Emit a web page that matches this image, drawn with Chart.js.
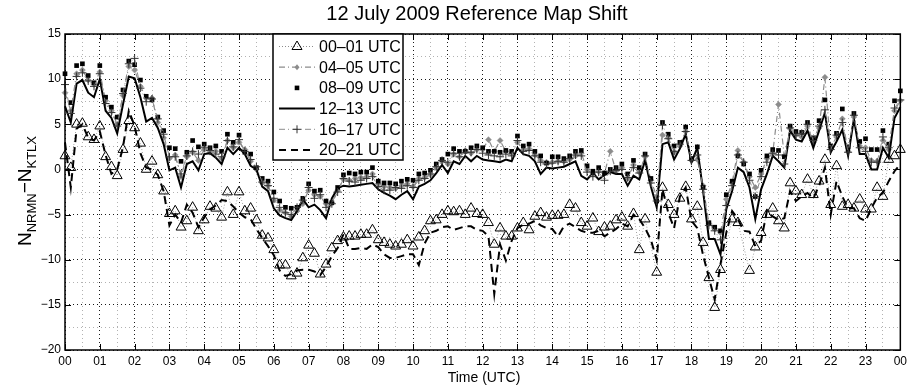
<!DOCTYPE html>
<html>
<head>
<meta charset="utf-8">
<script src="https://cdn.jsdelivr.net/npm/chart.js@4/dist/chart.umd.min.js"></script>
<style>
  html, body { margin: 0; padding: 0; background: #fff; }
</style>
</head>
<body>
<canvas id="shift" width="911" height="389"></canvas>
<script>
/* samples every 10 min, 00:00 .. 24:00 (145 values per series) */
var hourLabels = ['00','01','02','03','04','05','06','07','08','09','10','11',
                  '12','13','14','15','16','17','18','19','20','21','22','23','00'];
var minuteMarks = ['00','10','20','30','40','50'];

var seriesNames = ['00\u201301 UTC','04\u201305 UTC','08\u201309 UTC','12\u201313 UTC','16\u201317 UTC','20\u201321 UTC'];

var s00 = [
  1.5, 0.2, 5.0, 5.1, 3.6, 3.3,   4.8, 1.4, 0.3, -0.7, 2.2, 5.4,
  4.6, 2.9, 0.0, 0.9, -0.6, -2.4, -4.9, -4.6, -6.4, -5.7, -4.2, -6.8,
  -5.6, -4.1, -4.3, -5.3, -2.5, -5.0, -2.5, -4.6, -4.3, -5.6, -7.3, -7.6,
  -8.9, -10.6, -10.6, -11.8, -11.5, -9.8, -8.4, -9.3, -11.6, -10.5, -8.7, -7.9,
  -7.5, -7.4, -7.4, -7.2, -7.2, -6.7, -7.8, -8.1, -8.3, -8.5, -8.3, -7.8,
  -8.5, -7.5, -6.8, -5.7, -5.6, -5.0, -4.6, -4.7, -4.6, -5.0, -4.3, -4.9,
  -5.0, -5.9, -8.3, -6.5, -7.4, -7.4, -6.5, -5.9, -6.7, -5.2, -4.8, -5.3,
  -5.1, -5.1, -5.0, -3.9, -4.3, -5.9, -6.3, -5.4, -6.9, -6.4, -6.3, -5.6,
  -5.3, -6.3, -4.9, -8.9, -5.5, null, -11.4, -2.0, -3.9, -5.0, -3.2, -1.9,
  -5.5, -4.1, -8.1, -12.0, -15.3, -11.1, null, -5.5, -5.9, null, -11.2, -8.6,
  -7.0, -5.0, -4.3, -5.7, -6.5, -1.5, -2.4, -2.8, -1.1, -2.8, -1.3, 1.1,
  -3.9, 0.4, -4.1, -3.9, -4.3, -3.3, -4.4, -4.4, -2.0, -3.0, 1.1, 1.5,
  2.2
];
var s04 = [
  8.5, 6.5, 10.6, 11.0, 9.9, 9.4,  10.8, 7.6, 6.5, 5.0, 8.2, 11.4,
  11.0, 9.2, 7.9, 7.9, 5.2, 3.5,   1.2, 1.6, -0.8, 1.4, 1.9, 1.0,
  2.2, 1.9, 2.0, 1.2, 3.2, 2.4,    3.0, 2.2, 0.9, 0.0, -1.5, -1.8,
  -3.4, -4.5, -4.8, -5.2, -4.6, -3.8, -2.3, -2.8, -3.0, -3.8, -3.7, -2.3,
  -1.1, -1.2, -1.0, -0.9, -0.8, -0.5, -1.6, -1.9, -2.0, -2.1, -1.8, -1.6,
  -1.9, -1.0, -0.9, -0.6, 0.2, 0.9,  0.6, 1.7, 1.4, 2.1, 1.8, 2.2,
  2.2, 3.3, 2.0, 3.2, 2.0, 1.8,    3.0, 2.2, 2.3, 1.6, 1.0, 0.8,
  0.8, 0.9, 0.9, 1.1, 1.5, 1.8,    0.0, -0.5, -0.2, -0.4, 2.0, -0.2,
  0.2, -1.0, 0.5, -0.3, 1.4, -1.2, -3.0, 3.8, 3.5, 1.9, 2.6, 4.2,
  1.0, 1.1, -1.8, -6.0, -6.6, -7.0, -3.3, -1.5, 2.1, 0.8, -0.8, -2.0,
  -0.5, 1.2, 1.8, 7.2, 1.5, 4.5,   3.8, 3.6, 4.8, 3.0, 4.6, 10.2,
  2.4, 3.6, 5.6, 2.0, 5.8, 2.6,    2.4, 1.0, 0.9, 3.2, 2.2, 6.5,
  7.6
];
var s08 = [
  10.6, 7.4, 11.5, 11.7, 10.4, 9.6, 11.5, 8.0, 6.9, 5.8, 8.8, 12.0,
  11.6, 9.9, 8.1, 7.7, 5.8, 4.3,   2.4, 2.3, 0.9, 1.9, 3.2, 2.5,
  2.8, 2.4, 2.6, 2.0, 3.9, 3.0,    3.8, 1.9, 1.7, 0.2, -1.0, -1.3,
  -2.5, -3.5, -4.2, -4.3, -4.2, -3.2, -1.6, -2.4, -2.3, -3.5, -3.7, -2.0,
  -0.6, -0.4, -0.5, -0.3, -0.3, 0.2, -1.3, -1.5, -1.5, -1.6, -1.3, -1.1,
  -1.2, -0.5, -0.4, -0.1, 0.6, 1.1,  1.7, 2.3, 2.0, 2.0, 2.4, 2.6,
  2.4, 2.0, 2.0, 1.9, 2.1, 2.0,    3.7, 2.6, 2.8, 2.0, 1.5, 0.7,
  1.4, 1.4, 1.2, 1.5, 2.0, 2.1,    0.4, -0.2, 0.2, -0.4, 0.0, 0.2,
  0.6, -0.5, 1.0, 0.2, 1.7, -1.0,  -3.5, 5.2, 3.9, 2.6, 3.0, 4.7,
  1.2, 2.5, -2.0, -5.9, -6.4, -6.8, -2.8, -1.3, 1.5, 0.6, -0.5, -3.0,
  -0.1, 1.5, 2.2, 2.1, 1.4, 4.8,   4.2, 4.1, 5.2, 3.5, 5.4, 7.7,
  2.6, 4.0, 6.7, 2.5, 6.2, 3.1,    3.4, 2.2, 2.2, 4.3, 2.8, 7.6,
  8.7
];
var s12 = [
  7.0, 5.2, 9.5, 9.9, 8.5, 8.0,    10.0, 6.5, 5.7, 4.0, 7.2, 10.3,
  10.1, 8.0, 5.3, 5.7, 4.6, 2.8,   -0.1, 0.2, -2.0, 0.6, 0.9, -0.1,
  1.7, 1.8, 1.3, 0.6, 2.4, 1.7,    2.4, 1.7, 0.4, 0.0, -1.9, -2.4,
  -4.3, -5.1, -5.4, -5.6, -4.6, -3.3, -4.2, -3.9, -4.5, -5.4, -3.2, -2.1,
  -1.8, -1.9, -1.8, -1.7, -1.6, -1.5, -2.2, -2.6, -2.9, -3.3, -2.8, -2.4,
  -3.3, -1.9, -1.6, -1.2, -0.4, 0.5, -0.4, 0.9, 0.6, 1.5, 0.9, 1.5,
  1.1, 1.0, 0.9, 0.8, 1.1, 0.9,    2.4, 1.7, 1.5, 0.9, -0.5, 0.2,
  0.1, 0.2, 0.3, 0.6, 0.9, -0.7,   -1.1, -0.4, -1.1, -0.6, -0.3, -0.5,
  -0.5, -1.8, -0.7, -1.1, 1.0, -1.9, -4.2, 2.8, 3.0, 1.1, 2.3, 3.9,
  0.8, 2.4, -2.4, -7.7, -7.7, -9.4, -4.4, -2.4, 0.2, -0.3, -2.0, -5.5,
  -2.2, -0.5, 1.5, 0.9, 0.2, 4.3,  3.3, 3.1, 4.3, 2.4, 4.3, 6.3,
  1.9, 3.1, 4.4, 1.5, 5.6, 1.7,    1.7, 0.0, 0.0, 2.4, 1.3, 5.7,
  6.9
];
var s16 = [
  9.4, 6.2, 10.3, 10.7, 9.8, 9.2,  10.6, 7.3, 6.3, 4.8, 8.4, 11.7,
  12.3, 9.0, 7.5, 7.8, 5.6, 3.9,   1.4, 1.4, -0.5, 1.5, 2.0, 1.7,
  2.4, 2.1, 1.7, 1.4, 3.2, 2.5,    3.3, 2.0, 1.1, 0.3, -1.4, -1.8,
  -3.2, -4.2, -4.8, -5.0, -4.2, -3.4, -2.0, -3.2, -2.8, -4.2, -3.8, -2.5,
  -1.0, -1.3, -1.4, -1.2, -1.0, -0.8, -1.9, -2.3, -2.3, -2.0, -2.1, -1.8,
  -2.0, -1.2, -1.0, -0.5, 0.3, 1.0,  0.8, 1.8, 1.4, 1.9, 1.9, 2.2,
  1.8, 1.6, 1.5, 1.4, 1.7, 1.5,    3.2, 2.0, 2.1, 1.5, 0.8, 0.6,
  0.7, 0.9, 0.8, 1.2, 1.6, 1.5,    -0.3, -0.8, -0.3, -1.2, -0.2, -0.1,
  0.0, -0.9, 0.2, -0.4, 1.5, -1.5,  -3.5, 4.9, 3.4, 2.0, 2.8, 4.2,
  1.0, 1.6, -2.2, -6.2, -6.8, -7.8, -4.0, -1.8, 1.6, 0.8, -1.2, -3.0,
  -0.8, 0.8, 1.8, 1.6, 0.6, 4.6,   3.8, 4.0, 5.0, 3.2, 4.8, 6.6,
  2.2, 3.8, 5.2, 1.9, 6.0, 2.4,    2.0, 0.8, 0.8, 3.6, 2.4, 6.8,
  7.7
];
var s20 = [
  3.0, -2.0, 4.5, 5.0, 3.5, 3.2,   4.2, 1.6, -0.5, 0.0, 2.5, 6.5,
  4.8, 1.8, 0.2, 0.0, -0.6, -2.4,  -6.2, -5.0, -5.9, -3.9, -4.8, -6.4,
  -5.3, -4.4, -4.0, -3.4, -3.5, -4.1, -4.8, -5.3, -5.5, -6.6, -7.6, -8.5,
  -9.5, -11.2, -11.8, -11.6, -11.2, -11.1, -11.1, -11.3, -11.7, -10.8, -9.6, -8.7,
  -7.2, -8.8, -8.8, -8.7, -8.8, -8.3, -8.6, -9.4, -9.8, -9.8, -9.6, -9.4,
  -9.4, -10.6, -8.2, -7.0, -6.8, -6.4, -6.3, -6.7, -6.5, -6.3, -6.3, -6.7,
  -6.8, -7.4, -13.8, -8.3, -10.1, -7.9, -6.5, -6.1, -6.0, -5.7, -6.2, -6.5,
  -6.6, -7.4, -6.3, -6.0, -6.4, -6.8, -7.0, -7.0, -6.8, -7.4, -7.0, -6.6,
  -6.0, -6.3, -5.0, -5.5, -6.5, -7.8, -10.0, -2.2, -4.8, -6.5, -3.0, -2.0,
  -5.7, -6.5, -9.5, -12.0, -14.4, -10.5, -7.0, -4.6, -5.5, -6.8, -6.9, -8.5,
  -7.9, -4.6, -5.2, -5.6, -5.4, -2.4, -3.5, -3.0, -2.6, -3.2, -1.8, 0.2,
  -5.0, -1.3, -3.0, -4.3, -4.3, -5.4, -5.7, -4.3, -3.1, -2.6, -1.3, -0.2,
  0.6
];

var yTicks = [-20, -15, -10, -5, 0, 5, 10, 15];

// category labels "HH:MM"
var labels = [];
for (var h = 0; h < 24; h++) {
  minuteMarks.forEach(function (m) { labels.push(hourLabels[h] + ':' + m); });
}
labels.push('24:00');

var FONT = '"Liberation Sans", Arial, Helvetica, sans-serif';
var GRAY = '#8c8c8c';

function marker(ctx, kind, x, y) {
  ctx.save();
  ctx.setLineDash([]);
  if (kind == 'tri') {
    ctx.strokeStyle = '#000'; ctx.lineWidth = 1;
    ctx.beginPath();
    ctx.moveTo(x, y - 5.5); ctx.lineTo(x + 5, y + 3); ctx.lineTo(x - 5, y + 3); ctx.closePath();
    ctx.stroke();
  } else if (kind == 'dia') {
    ctx.fillStyle = GRAY; ctx.strokeStyle = GRAY;
    ctx.beginPath();
    ctx.moveTo(x, y - 3); ctx.lineTo(x + 2.5, y); ctx.lineTo(x, y + 3); ctx.lineTo(x - 2.5, y); ctx.closePath();
    ctx.fill();
  } else if (kind == 'sq') {
    ctx.fillStyle = '#000';
    ctx.fillRect(x - 2.3, y - 2.3, 4.6, 4.6);
  } else if (kind == 'plus') {
    ctx.strokeStyle = '#333'; ctx.lineWidth = 1;
    ctx.beginPath();
    ctx.moveTo(x - 4, y); ctx.lineTo(x + 4, y); ctx.moveTo(x, y - 4); ctx.lineTo(x, y + 4);
    ctx.stroke();
  }
  ctx.restore();
}

var legendItems = [
  {line: GRAY, width: 1, dash: [1, 2], mark: 'tri'},
  {line: GRAY, width: 1.2, dash: [6, 3, 1, 3], mark: 'dia'},
  {line: null, mark: 'sq'},
  {line: '#000', width: 2, dash: [], mark: null},
  {line: GRAY, width: 1, dash: [6, 3, 1, 3], mark: 'plus'},
  {line: '#000', width: 2, dash: [7, 5], mark: null}
];

var decorations = {
  id: 'decorations',
  afterDatasetsDraw: function (chart) {
    var ctx = chart.ctx, a = chart.chartArea;
    var xs = chart.scales.x, ys = chart.scales.y;
    ctx.save();
    ctx.setLineDash([]);
    ctx.strokeStyle = '#000';
    ctx.lineWidth = 1;
    // inward tick marks
    ctx.beginPath();
    for (var i = 0; i < labels.length; i += 6) {
      var px = Math.round(xs.getPixelForValue(i)) + 0.5;
      ctx.moveTo(px, a.bottom); ctx.lineTo(px, a.bottom - 6);
      ctx.moveTo(px, a.top); ctx.lineTo(px, a.top + 6);
    }
    yTicks.forEach(function (v) {
      var py = Math.round(ys.getPixelForValue(v)) + 0.5;
      ctx.moveTo(a.left, py); ctx.lineTo(a.left + 6, py);
      ctx.moveTo(a.right, py); ctx.lineTo(a.right - 6, py);
    });
    ctx.stroke();
    // box
    ctx.lineWidth = 1.5;
    ctx.strokeRect(a.left, a.top, a.right - a.left, a.bottom - a.top);
    ctx.restore();
  },
  afterDraw: function (chart) {
    var ctx = chart.ctx, a = chart.chartArea;
    ctx.save();
    ctx.fillStyle = '#000';
    // title
    ctx.font = '20px ' + FONT;
    ctx.textAlign = 'center';
    ctx.textBaseline = 'middle';
    ctx.fillText('12 July 2009 Reference Map Shift', 477, 14);
    // x label
    ctx.font = '14px ' + FONT;
    ctx.fillText('Time (UTC)', 484, 378);
    // y label with subscripts
    var parts = [['N', 19, 0], ['NRMN', 13, 5], ['\u2212N', 19, 0], ['KTLX', 13, 5]];
    var total = 0;
    parts.forEach(function (p) { ctx.font = p[1] + 'px ' + FONT; p.push(ctx.measureText(p[0]).width); total += p[3]; });
    ctx.translate(31, 191);
    ctx.rotate(-Math.PI / 2);
    ctx.textAlign = 'left';
    ctx.textBaseline = 'alphabetic';
    var cx = -total / 2;
    parts.forEach(function (p) {
      ctx.font = p[1] + 'px ' + FONT;
      ctx.fillText(p[0], cx, p[2]);
      cx += p[3];
    });
    ctx.restore();

    // legend
    ctx.save();
    var bx = 273, by = 34, bw = 130, bh = 126;
    ctx.fillStyle = '#fff';
    ctx.fillRect(bx, by, bw, bh);
    ctx.strokeStyle = '#000'; ctx.lineWidth = 1.5;
    ctx.strokeRect(bx, by, bw, bh);
    ctx.font = '16px ' + FONT;
    ctx.textBaseline = 'middle';
    ctx.textAlign = 'left';
    legendItems.forEach(function (it, k) {
      var ly = 46.5 + k * 20.7;
      if (it.line) {
        ctx.save();
        ctx.strokeStyle = it.line; ctx.lineWidth = it.width; ctx.setLineDash(it.dash);
        ctx.beginPath(); ctx.moveTo(279, ly); ctx.lineTo(315, ly); ctx.stroke();
        ctx.restore();
      }
      if (it.mark) marker(ctx, it.mark, 297, ly);
      ctx.fillStyle = '#000';
      ctx.fillText(seriesNames[k], 319, ly + 1);
    });
    ctx.restore();
  }
};

function series(k, data, opts) {
  var base = {
    label: seriesNames[k], data: data, clip: false, spanGaps: true, tension: 0,
    pointHoverRadius: 0, order: 6 - k
  };
  return Object.assign(base, opts);
}

new Chart(document.getElementById('shift'), {
  type: 'line',
  data: {
    labels: labels,
    datasets: [
      series(0, s00, {borderColor: GRAY, borderWidth: 0.8, borderDash: [1, 2],
        pointStyle: 'triangle', pointRadius: 5.7, pointBorderColor: '#000',
        pointBackgroundColor: 'rgba(255,255,255,0)', pointBorderWidth: 1}),
      series(1, s04, {borderColor: GRAY, borderWidth: 1.2, borderDash: [6, 3, 1, 3],
        pointStyle: 'rectRot', pointRadius: 3, pointBorderColor: GRAY,
        pointBackgroundColor: GRAY, pointBorderWidth: 0.5}),
      series(2, s08, {showLine: false, pointStyle: 'rect', pointRadius: 3.3,
        pointBackgroundColor: '#000', pointBorderColor: '#000', pointBorderWidth: 0}),
      series(3, s12, {borderColor: '#000', borderWidth: 2, pointRadius: 0}),
      series(4, s16, {borderColor: GRAY, borderWidth: 1, borderDash: [6, 3, 1, 3],
        pointStyle: 'cross', pointRadius: 4, pointBorderColor: '#333',
        pointBorderWidth: 1}),
      series(5, s20, {borderColor: '#000', borderWidth: 2, borderDash: [8, 5], pointRadius: 0})
    ]
  },
  options: {
    responsive: false,
    animation: false,
    devicePixelRatio: 1,
    layout: {padding: {top: 34, right: 8, left: 0, bottom: 0}},
    plugins: {legend: {display: false}, tooltip: {enabled: false}},
    scales: {
      x: {
        type: 'category',
        afterFit: function (s) { s.height = 39; },
        grid: {
          drawTicks: false,
          lineWidth: 1,
          color: function (c) {
            if (c.index % 6 == 0) return 'rgba(0,0,0,0.9)';
            if (c.index % 3 == 0) return 'rgba(0,0,0,0.3)';
            return 'rgba(0,0,0,0)';
          }
        },
        border: {display: false, dash: [1, 3]},
        ticks: {
          autoSkip: false, maxRotation: 0, padding: 4,
          color: '#000', font: {family: FONT, size: 12},
          callback: function (v, i) { return i % 6 == 0 ? hourLabels[i / 6] : ''; }
        }
      },
      y: {
        min: -20, max: 15,
        afterFit: function (s) { s.width = 65; },
        grid: {
          drawTicks: false,
          lineWidth: 1,
          color: function (c) {
            return (c.tick.value % 5 == 0) ? 'rgba(0,0,0,0.9)' : 'rgba(0,0,0,0.3)';
          }
        },
        border: {display: false, dash: [1, 3]},
        ticks: {
          stepSize: 2.5, padding: 4,
          color: '#000', font: {family: FONT, size: 12},
          callback: function (v) { return v % 5 == 0 ? String(v).replace('-', '\u2212') : ''; }
        }
      }
    }
  },
  plugins: [decorations]
});
</script>
</body>
</html>
